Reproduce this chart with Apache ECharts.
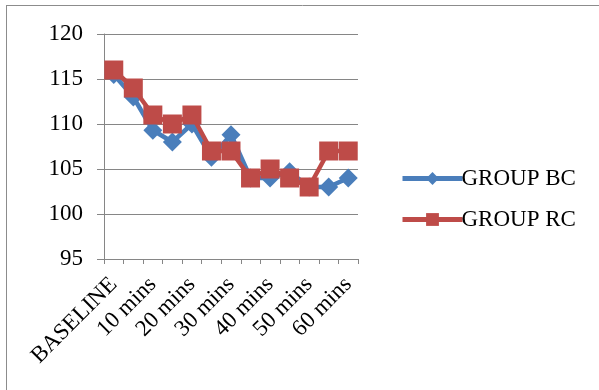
<!DOCTYPE html>
<html><head><meta charset="utf-8">
<script src="https://cdn.jsdelivr.net/npm/echarts@6/dist/echarts.min.js"></script>
<style>html,body{margin:0;padding:0;background:#fff}#c{width:599px;height:390px}</style>
</head><body><div id="c"></div>
<script>
var categories = ['BASELINE','5 mins','10 mins','15 mins','20 mins','25 mins','30 mins','35 mins','40 mins','45 mins','50 mins','55 mins','60 mins'];
var groupBC = [115.5, 113, 109.3, 108, 110, 106.3, 108.8, 104, 104, 104.7, 103, 103, 104];
var groupRC = [116, 114, 111, 110, 111, 107, 107, 104, 105, 104, 103, 107, 107];
var yTicks = {min: 95, max: 120, interval: 5};

var font = "'Liberation Serif','Times New Roman',serif";
var gray = '#868686';
var blue = '#4A7EBB', red = '#BE4B48';
var chart = echarts.init(document.getElementById('c'), null, {renderer: 'canvas'});
chart.setOption({
  animation: false,
  backgroundColor: '#fff',
  graphic: [
    {type: 'line', shape: {x1: 6, y1: 5.5, x2: 599, y2: 5.5}, style: {stroke: '#8c8c8c', lineWidth: 1}},
    {type: 'line', shape: {x1: 6.5, y1: 5, x2: 6.5, y2: 390}, style: {stroke: '#8c8c8c', lineWidth: 1}}
  ],
  grid: {left: 104, right: 241, top: 34, bottom: 131, containLabel: false},
  legend: {
    orient: 'vertical', left: 395, top: 162, itemWidth: 60, itemHeight: 16, itemGap: 18,
    textStyle: {fontFamily: font, fontSize: 23, color: '#000', padding: [0, 0, 0, -6]},
    data: [
      {name: 'GROUP BC', lineStyle: {width: 5, color: blue}},
      {name: 'GROUP RC', lineStyle: {width: 5, color: red}}
    ]
  },
  xAxis: {
    type: 'category', data: categories, boundaryGap: true,
    axisLine: {lineStyle: {color: gray, width: 1}},
    axisTick: {show: true, interval: 0, length: 5, lineStyle: {color: gray}},
    axisLabel: {interval: 1, rotate: 45, margin: 22, fontFamily: font, fontSize: 23, color: '#000'},
    splitLine: {show: false}
  },
  yAxis: {
    type: 'value', min: yTicks.min, max: yTicks.max, interval: yTicks.interval,
    axisLine: {show: true, lineStyle: {color: gray, width: 1}},
    axisTick: {show: true, length: 7, lineStyle: {color: gray}},
    axisLabel: {margin: 21, fontFamily: font, fontSize: 23, color: '#000'},
    splitLine: {show: true, lineStyle: {color: gray, width: 1}}
  },
  series: [
    {name: 'GROUP BC', type: 'line', data: groupBC, symbol: 'diamond', symbolSize: [19, 19], showAllSymbol: true,
     lineStyle: {color: blue, width: 4.5}, itemStyle: {color: blue}, z: 2},
    {name: 'GROUP RC', type: 'line', data: groupRC, symbol: 'rect', symbolSize: 19, showAllSymbol: true,
     lineStyle: {color: red, width: 4.5}, itemStyle: {color: red}, z: 3}
  ]
});
</script></body></html>
